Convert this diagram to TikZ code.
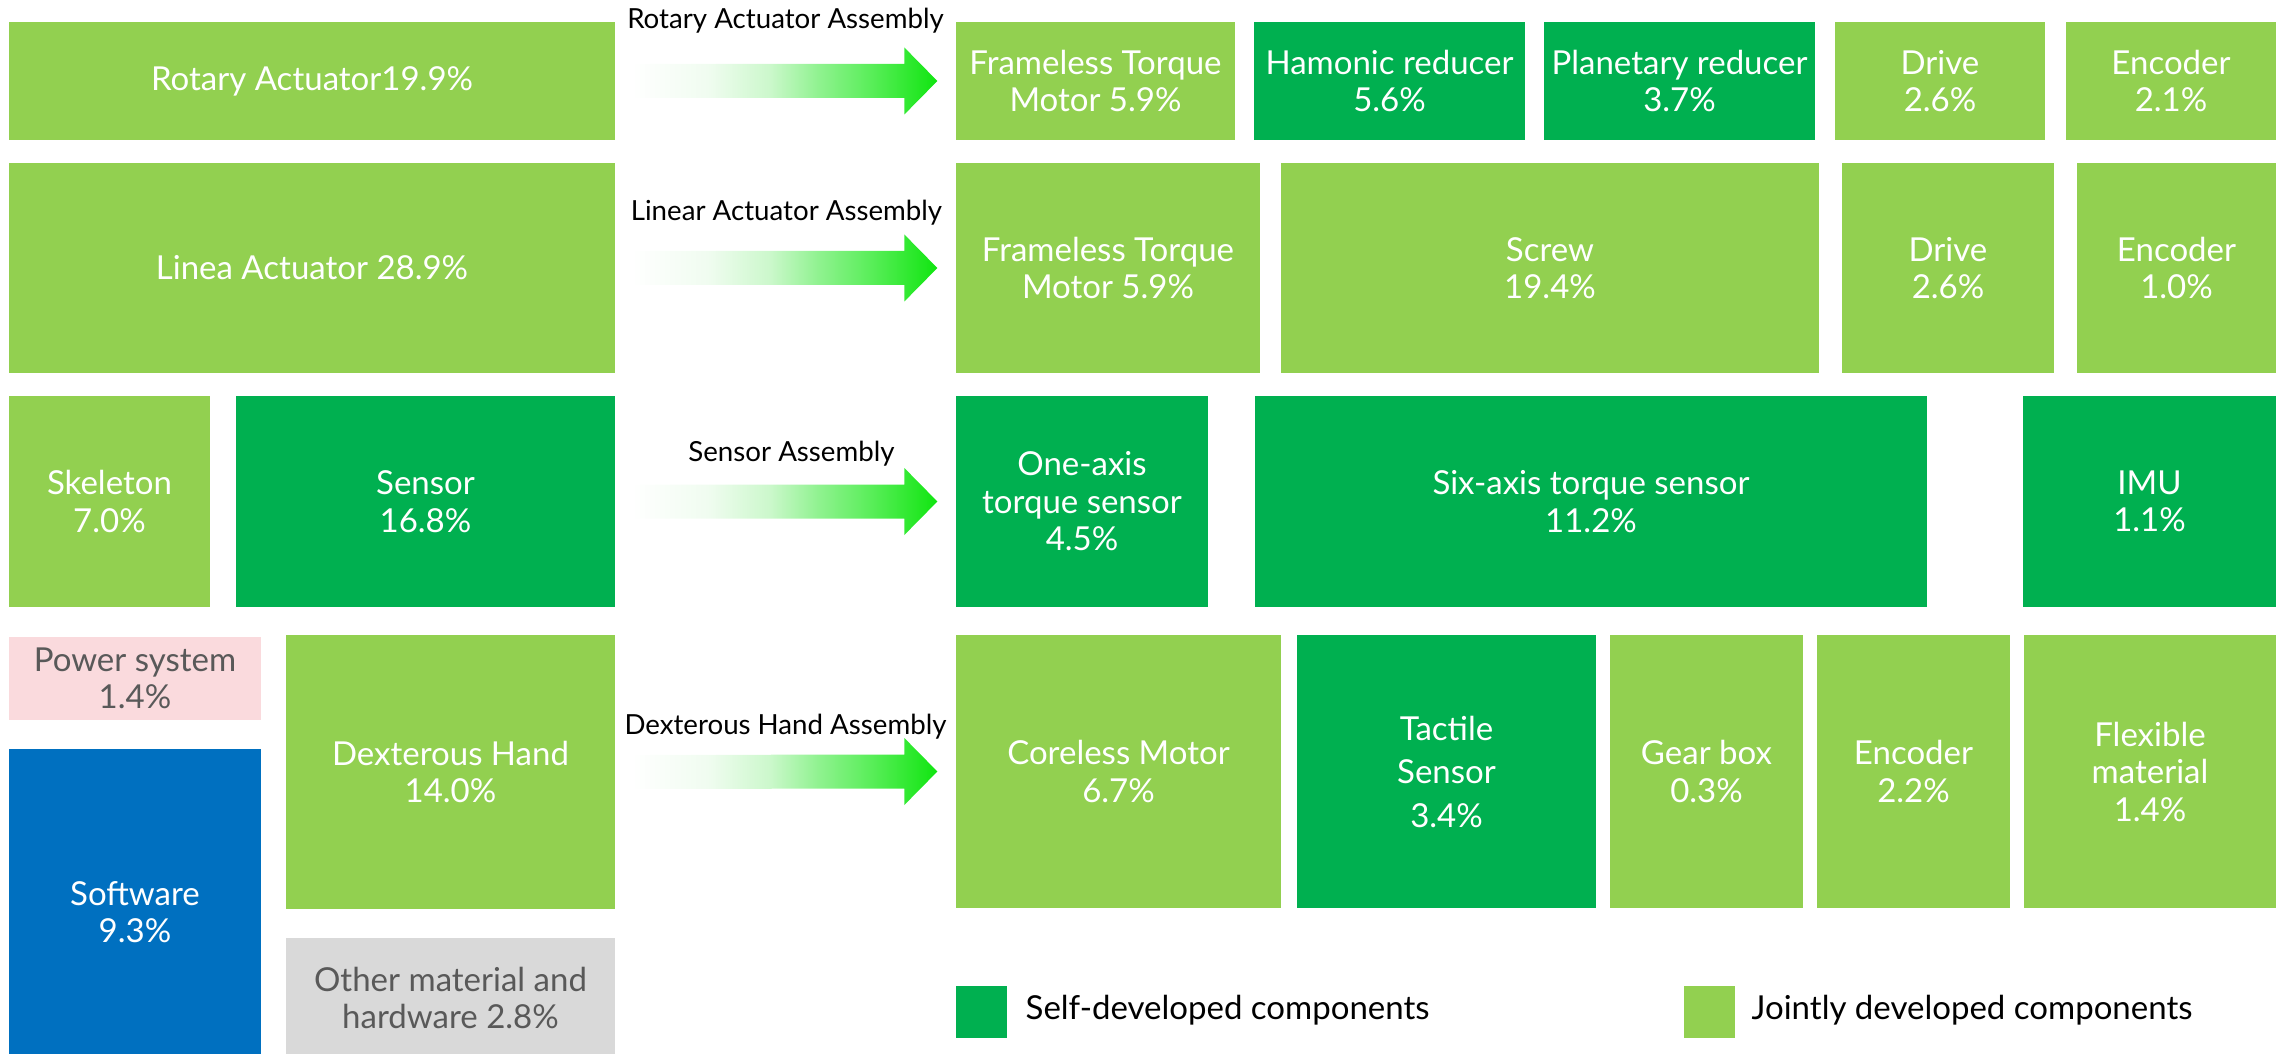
\documentclass[tikz,border=0pt]{standalone}
\usepackage{fontspec}
\setmainfont{Lato}
\usetikzlibrary{calc}
\definecolor{lgreen}{HTML}{92D050}
\definecolor{dgreen}{HTML}{00B050}
\definecolor{swblue}{HTML}{0070C0}
\definecolor{pwpink}{HTML}{FADADD}
\definecolor{ogray}{HTML}{D9D9D9}
\definecolor{tgray}{HTML}{595959}
\definecolor{c25}{HTML}{F0FCF0}
\definecolor{c45}{HTML}{CCF8CC}
\definecolor{c61}{HTML}{90F290}
\definecolor{c78}{HTML}{5AEE5A}
\definecolor{c100}{HTML}{10E510}
\pgfdeclarehorizontalshading{arrshade}{100bp}{color(0bp)=(white); color(25bp)=(white);
  color(37.5bp)=(c25); color(47.5bp)=(c45); color(55.5bp)=(c61); color(64bp)=(c78);
  color(75bp)=(c100); color(100bp)=(c100)}
\tikzset{
  cell/.style={rectangle,inner sep=0pt,align=center,text=white,
    font=\fontsize{9.9}{11.25}\selectfont},
  lg/.style={cell,fill=lgreen},
  dg/.style={cell,fill=dgreen},
  sz/.style 2 args={minimum width=#1*0.3pt,minimum height=#2*0.3pt},
  asm/.style={inner sep=0pt,anchor=base,font=\fontsize{8.3}{9}\selectfont},
  leg/.style={inner sep=0pt,anchor=west,font=\fontsize{9.9}{11.25}\selectfont},
  bigarr/.style={shading=arrshade},
}
\begin{document}
\begin{tikzpicture}[x=0.3pt,y=-0.3pt]
\useasboundingbox (0,0) rectangle (2279,1054);
% left column
\node[lg,sz={606}{118}] (rot) at (312,81) {Rotary Actuator19.9\%};
\node[lg,sz={606}{210}] (lin) at (312,268) {Linea Actuator 28.9\%};
\node[lg,sz={201}{211}] (skel) at (109.5,501.5) {Skeleton\\7.0\%};
\node[dg,sz={379}{211}] (sen) at (425.5,501.5) {Sensor\\16.8\%};
\node[cell,fill=pwpink,text=tgray,sz={252}{83}] (pow) at (135,678.5) {Power system\\1.4\%};
\node[cell,fill=swblue,sz={252}{326}] (soft) at (135,912) {Software\\9.3\%};
\node[lg,sz={329}{274}] (dex) at (450.5,772) {Dexterous Hand\\14.0\%};
\node[cell,fill=ogray,text=tgray,sz={329}{120}] (oth) at (450.5,998) {Other material and\\hardware 2.8\%};
% rotary actuator parts
\node[lg,sz={279}{118}] (ftm1) at (1095.5,81) {Frameless Torque\\Motor 5.9\%};
\node[dg,sz={271}{118}] (har) at (1389.5,81) {Hamonic reducer\\5.6\%};
\node[dg,sz={271}{118}] (pla) at (1679.5,81) {Planetary reducer\\3.7\%};
\node[lg,sz={210}{118}] (drv1) at (1940,81) {Drive\\2.6\%};
\node[lg,sz={210}{118}] (enc1) at (2171,81) {Encoder\\2.1\%};
% linear actuator parts
\node[lg,sz={304}{210}] (ftm2) at (1108,268) {Frameless Torque\\Motor 5.9\%};
\node[lg,sz={538}{210}] (scr) at (1550,268) {Screw\\19.4\%};
\node[lg,sz={212}{210}] (drv2) at (1948,268) {Drive\\2.6\%};
\node[lg,sz={199}{210}] (enc2) at (2176.5,268) {Encoder\\1.0\%};
% sensor parts
\node[dg,sz={252}{211}] (one) at (1082,501.5) {One-axis\\torque sensor\\4.5\%};
\node[dg,sz={672}{211}] (six) at (1591,501.5) {Six-axis torque sensor\\11.2\%};
\node[dg,sz={253}{211}] (imu) at (2149.5,501.5) {IMU\\1.1\%};
% hand parts
\node[lg,sz={325}{273}] (cor) at (1118.5,771.5) {Coreless Motor\\6.7\%};
\node[dg,sz={299}{273}] (tac) at (1446.5,771.5) {Tactile\\[1.8pt]Sensor\\[1.8pt]3.4\%};
\node[lg,sz={193}{273}] (gear) at (1706.5,771.5) {Gear box\\0.3\%};
\node[lg,sz={193}{273}] (enc3) at (1913.5,771.5) {Encoder\\2.2\%};
\node[lg,sz={252}{273}] (flex) at (2150,771.5) {Flexible\\material\\1.4\%};
% arrows
\foreach \a/\b in {rot/ftm1,lin/ftm2,sen/one,dex/cor}
  \path[bigarr] ($(\a.east)+(16,17)$) -- ($(\b.west)+(-51,17)$) -- ($(\b.west)+(-51,33.5)$)
    -- ($(\b.west)+(-18,0)$) -- ($(\b.west)+(-51,-33.5)$) -- ($(\b.west)+(-51,-17)$)
    -- ($(\a.east)+(16,-17)$) -- cycle;
\node[asm] (asm1) at (785.5,28.3) {Rotary Actuator Assembly};
\node[asm] (asm2) at (786.5,220.7) {Linear Actuator Assembly};
\node[asm] (asm3) at (791.5,461.7) {Sensor Assembly};
\node[asm] (asm4) at (785.5,734.3) {Dexterous Hand Assembly};
% legend
\node[cell,fill=dgreen,sz={51}{52}] (sq1) at (981.5,1012) {};
\node[leg] (txt1) at (1025,1010) {Self-developed components};
\node[cell,fill=lgreen,sz={51}{52}] (sq2) at (1709.5,1012) {};
\node[leg] (txt2) at (1751,1010) {Jointly developed components};
\end{tikzpicture}
\end{document}
